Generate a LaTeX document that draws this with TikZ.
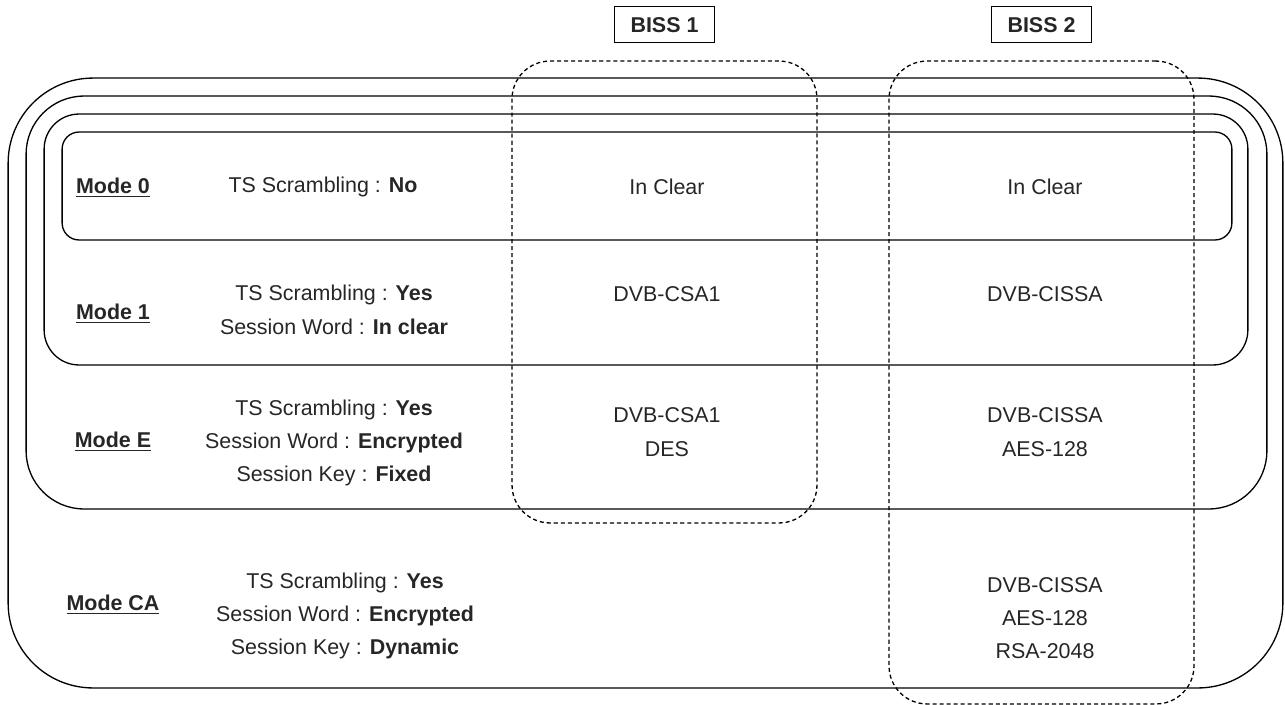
\documentclass[tikz,border=0pt]{standalone}
\usepackage{fontspec}
\setmainfont{Liberation Sans}
\usetikzlibrary{positioning}

\begin{document}
\begin{tikzpicture}[x=0.02cm, y=-0.02cm, every node/.style={font=\fontsize{12.2}{19}\selectfont, text=black!85}, frame/.style={draw, line width=0.75pt, inner sep=0pt}, biss/.style={draw, dash pattern=on 2.3pt off 1.7pt, line width=0.75pt, inner sep=0pt, minimum width=6.1cm, rounded corners=0.76cm}, tag/.style={draw, line width=0.75pt, font=\fontsize{12.2}{14}\selectfont\bfseries, minimum width=2cm, minimum height=0.72cm, inner sep=0pt}, mode/.style={font=\fontsize{12.2}{14}\selectfont\bfseries}, info/.style={align=center}]
\useasboundingbox (0,0) rectangle (1285,704);
% nested mode frames
\node[frame, minimum width=25.5cm, minimum height=12.2cm, rounded corners=1.7cm] (mca) at (645.5,383) {};
\node[frame, minimum width=24.82cm, minimum height=8.26cm, rounded corners=1.16cm] (me) at (646.5,302.5) {};
\node[frame, minimum width=24.08cm, minimum height=5.02cm, rounded corners=0.7cm] (m1) at (646,239.5) {};
\node[frame, minimum width=23.4cm, minimum height=2.16cm, rounded corners=0.34cm] (m0) at (647,186) {};
% BISS columns
\node[biss, minimum height=9.24cm] (biss1) at (664.5,292) {};
\node[biss, minimum height=12.86cm] (biss2) at (1041.5,382.5) {};
\node[tag] (t1) [above=0.34cm of biss1] {BISS 1};
\node[tag] (t2) [above=0.34cm of biss2] {BISS 2};
% Mode 0
\node[mode] (l0) at (113,188) {\underline{Mode 0}};
\node[info] (d0) at (323,187) {TS Scrambling : \textbf{No}};
\node (c0a) at (667,187) {In Clear};
\node (c0b) at (1045,187) {In Clear};
% Mode 1
\node[mode] (l1) at (113,314) {\underline{Mode 1}};
\node[info] (d1) at (334,310) {TS Scrambling : \textbf{Yes}\\Session Word : \textbf{In clear}};
\node (c1a) at (667,294) {DVB-CSA1};
\node (c1b) at (1045,294) {DVB-CISSA};
% Mode E
\node[mode] (le) at (113,442) {\underline{Mode E}};
\node[info] (de) at (334,443) {TS Scrambling : \textbf{Yes}\\Session Word : \textbf{Encrypted}\\Session Key : \textbf{Fixed}};
\node[info] (cea) at (667,432) {DVB-CSA1\\DES};
\node[info] (ceb) at (1045,432) {DVB-CISSA\\AES-128};
% Mode CA
\node[mode] (lca) at (113,605) {\underline{Mode CA}};
\node[info] (dca) at (345,616) {TS Scrambling : \textbf{Yes}\\Session Word : \textbf{Encrypted}\\Session Key : \textbf{Dynamic}};
\node[info] (ccb) at (1045,618) {DVB-CISSA\\AES-128\\RSA-2048};
\end{tikzpicture}
\end{document}
